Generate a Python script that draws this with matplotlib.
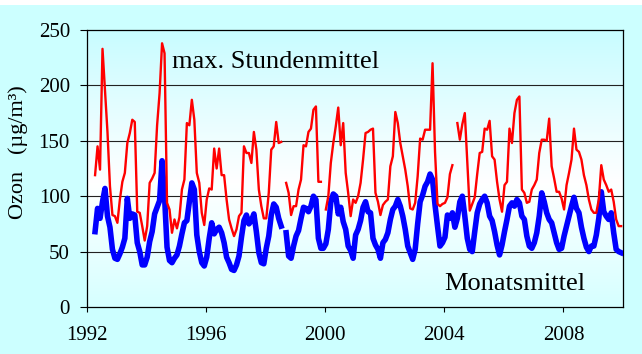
import numpy as np
import matplotlib
matplotlib.use("Agg")
import matplotlib.pyplot as plt
from matplotlib.colors import LinearSegmentedColormap
from matplotlib.patches import Rectangle

# monthly series, first month = April 1992, NaN = missing
start_year = 1992
start_month = 4
max_stunde = [
    119, 145, 124, 233, 195, 158, 109, 83, 82, 76, 97, 113, 121, 148, 157, 169, 167, 86, 85, 73,
    60, 73, 112, 116, 121, 164, 193, 238, 229, 94, 88, 67, 79, 71, 81, 106, 115, 166, 164, 187,
    169, 121, 112, 85, 74, 97, 107, 106, 143, 125, 143, 119, 119, 97, 79, 71, 64, 70, 82, 85,
    145, 139, 139, 130, 158, 142, 106, 91, 80, 80, 103, 142, 145, 167, 148, 149, np.nan, 112, 103, 83,
    91, 91, 106, 115, 146, 145, 158, 161, 178, 181, 113, 113, np.nan, 88, 100, 130, 148, 163, 180, 146,
    166, 121, 103, 82, 97, 94, 100, 112, 133, 157, 158, 160, 161, 103, 95, 83, 92, 95, 97, 127,
    136, 176, 166, 148, 136, 124, 109, 89, 88, 94, 118, 152, 151, 160, 160, 160, 220, 140, 93, 91,
    93, 94, 99, 120, 128, np.nan, 166, 151, 165, 175, 130, 87, 93, 99, 120, 139, 140, 161, 160, 168,
    136, 133, 113, 97, 86, 110, 113, 161, 148, 175, 187, 190, 106, 103, 94, 95, 106, 110, 115, 139,
    151, 151, 150, 170, 127, 116, 104, 104, 98, 88, 110, 121, 133, 161, 142, 140, 133, 119, 110, 97,
    88, 85, 85, 97, 128, 115, 110, 104, 106, 95, 79, 73, 73,
]
monatsmittel = [
    68, 89, 80, 95, 107, 82, 72, 52, 44, 43, 48, 54, 62, 98, 80, 84, 83, 58, 50, 38,
    38, 45, 59, 68, 84, 90, 96, 132, 100, 54, 42, 40, 44, 47, 55, 66, 76, 78, 95, 112,
    106, 65, 50, 40, 37, 45, 62, 76, 66, 70, 72, 67, 58, 45, 40, 34, 33, 38, 46, 63,
    78, 83, 75, 78, 84, 68, 49, 40, 39, 53, 64, 83, 93, 90, 80, 73, np.nan, 67, 46, 44,
    55, 64, 69, 80, 90, 89, 86, 91, 100, 97, 62, 53, 53, 57, 70, 95, 102, 100, 84, 90,
    77, 70, 55, 51, 44, 65, 70, 78, 90, 95, 86, 85, 62, 56, 52, 44, 58, 61, 67, 79,
    88, 91, 97, 91, 82, 70, 55, 49, 43, 52, 75, 95, 101, 109, 113, 120, 115, 92, 73, 55,
    58, 63, 83, 80, 85, 72, 80, 95, 100, 82, 62, 52, 50, 68, 85, 93, 97, 100, 94, 82,
    78, 68, 56, 47, 56, 68, 79, 91, 94, 91, 97, 94, 82, 79, 64, 55, 53, 58, 67, 82,
    103, 95, 85, 79, 76, 67, 58, 52, 53, 64, 73, 82, 91, 99, 89, 85, 72, 62, 54, 50,
    55, 55, 65, 80, 104, 86, 82, 79, 85, 67, 52, 50, 49,
]
x_ticks = [1992, 1996, 2000, 2004, 2008]
y_ticks = [0, 50, 100, 150, 200, 250]

plt.rcParams['font.family'] = ['Liberation Serif', 'DejaVu Serif']

months = np.arange(len(max_stunde))
years = start_year + (start_month - 1 + months + 0.25) / 12.0

fig = plt.figure(figsize=(6.42, 3.54), dpi=100)
fig.patch.set_facecolor('#ccffff')
fig.patches.append(Rectangle((0, 1 - 5 / 354), 1, 5 / 354, transform=fig.transFigure,
                             facecolor='white', edgecolor='none'))

ax = fig.add_axes([87 / 642, 1 - 307 / 354, 536 / 642, 277 / 354])

# light cyan -> white -> light cyan background of the plot area
cmap = LinearSegmentedColormap.from_list('bg', [(0.0, '#d6ffff'), (0.45, '#ffffff'), (1.0, '#c8fcff')])
grad = np.linspace(0, 1, 256).reshape(-1, 1)
ax.imshow(grad, cmap=cmap, aspect='auto', extent=[0, 1, 0, 1], transform=ax.transAxes,
          origin='lower', zorder=0)

for v in y_ticks[1:-1]:
    ax.axhline(v, color='#222222', lw=0.8, zorder=1)

ax.plot(years, monatsmittel, color='#0000ff', lw=4.0, zorder=3)
ax.plot(years, max_stunde, color='#ff0000', lw=1.7, zorder=4)

ax.set_xlim(1992, 2010)
ax.set_ylim(0, 250)
ax.set_xticks(x_ticks)
ax.set_yticks(y_ticks)
ax.tick_params(axis='y', length=5.3, width=0.8, pad=7, labelsize=15, direction='out')
ax.tick_params(axis='x', length=3.6, width=0.8, pad=10, labelsize=15, direction='out')
for s in ax.spines.values():
    s.set_linewidth(0.9)
    s.set_color('black')

ax.text(1994.85, 221, 'max. Stundenmittel', fontsize=19, va='center', ha='left', zorder=5)
ax.text(2004.0, 21, 'Monatsmittel', fontsize=19, va='center', ha='left', zorder=5)

fig.text(0.029, 0.571, 'Ozon   (µg/m³)', rotation=90, fontsize=16, ha='center', va='center')

fig.savefig('out.png', dpi=100, facecolor=fig.get_facecolor())
